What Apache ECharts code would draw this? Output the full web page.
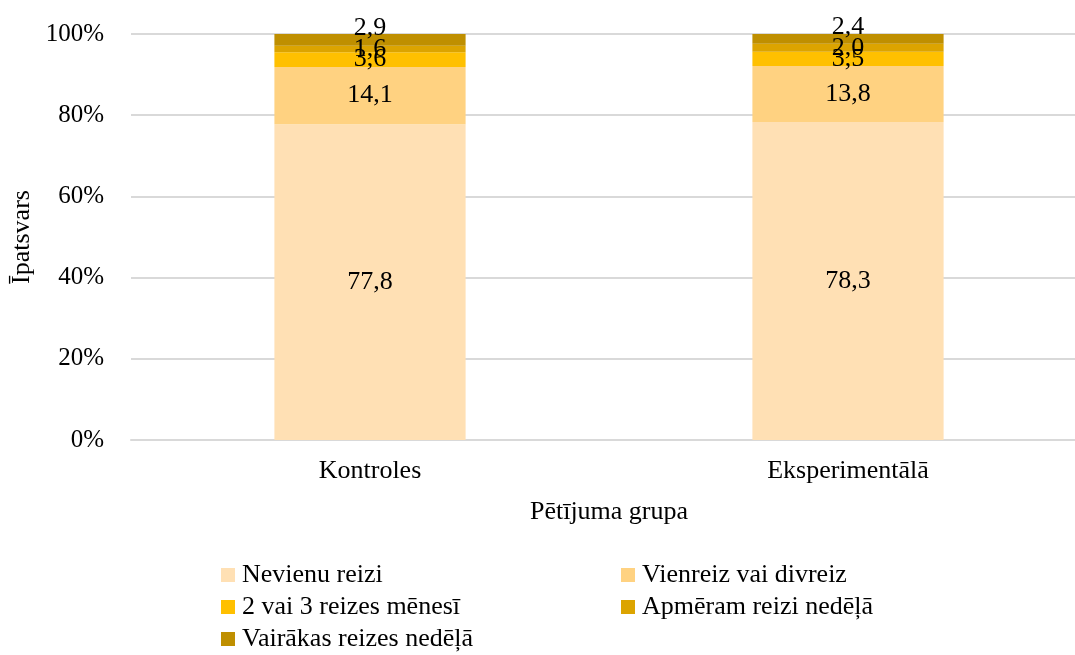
<!DOCTYPE html>
<html>
<head>
<meta charset="utf-8">
<script src="https://cdn.jsdelivr.net/npm/echarts@6/dist/echarts.min.js"></script>
<style>
  html, body { margin: 0; padding: 0; background: #fff; }
  #chart { width: 1075px; height: 655px; }
</style>
</head>
<body>
<div id="chart"></div>
<script>
// grupas
const groups = ['Kontroles', 'Eksperimentālā']
// atbilžu kategorijas (no apakšas uz augšu)
const answers = ['Nevienu reizi', 'Vienreiz vai divreiz', '2 vai 3 reizes mēnesī', 'Apmēram reizi nedēļā', 'Vairākas reizes nedēļā']
// procenti katrai kategorijai: [Kontroles, Eksperimentālā]
const nevienu = [77.8, 78.3]
const vienreiz = [14.1, 13.8]
const menesi = [3.6, 3.5]
const apmeram = [1.6, 2.0]
const vairakas = [2.9, 2.4]
const yTicks = [0, 20, 40, 60, 80, 100]

const colors = ['#FFE0B4', '#FFD281', '#FFC000', '#DCA400', '#BF8F00']
const seriesData = [nevienu, vienreiz, menesi, apmeram, vairakas]
const font = 'Liberation Serif'

// leģendas vietas: 2 kolonnas, 3 rindas
const legendPos = [[221, 562], [621, 562], [221, 594], [621, 594], [221, 626]]

const chart = echarts.init(document.getElementById('chart'))

chart.setOption({
  animation: false,
  textStyle: { fontFamily: font },
  grid: {
    left: 131,
    width: 956,
    top: 34,
    bottom: 215,
    outerBoundsMode: 'none'
  },
  legend: answers.map((name, i) => ({
    data: [name],
    left: legendPos[i][0],
    top: legendPos[i][1],
    padding: 0,
    icon: 'rect',
    itemWidth: 14,
    itemHeight: 14,
    textStyle: { fontFamily: font, fontSize: 26, color: '#000', padding: [0, 0, 0, 2] }
  })),
  xAxis: {
    type: 'category',
    data: groups,
    name: 'Pētījuma grupa',
    nameLocation: 'middle',
    nameGap: 59,
    nameTextStyle: { fontFamily: font, fontSize: 26, color: '#000' },
    axisTick: { show: false },
    axisLine: { lineStyle: { color: '#d9d9d9', width: 2 } },
    axisLabel: { fontFamily: font, fontSize: 26, color: '#000', margin: 18 }
  },
  yAxis: {
    type: 'value',
    min: yTicks[0],
    max: yTicks[yTicks.length - 1],
    interval: yTicks[1] - yTicks[0],
    name: 'Īpatsvars',
    nameLocation: 'middle',
    nameGap: 96,
    nameTextStyle: { fontFamily: font, fontSize: 26, color: '#000' },
    axisLine: { show: false },
    axisTick: { show: false },
    splitLine: { lineStyle: { color: '#d9d9d9', width: 2 } },
    axisLabel: { fontFamily: font, fontSize: 25, color: '#000', margin: 27, formatter: '{value}%' }
  },
  series: answers.map((name, i) => ({
    name: name,
    type: 'bar',
    stack: 'total',
    barWidth: '40%',
    data: seriesData[i],
    itemStyle: { color: colors[i] },
    label: {
      show: true,
      position: 'inside',
      fontFamily: font,
      fontSize: 26,
      color: '#000',
      formatter: p => p.value.toFixed(1).replace('.', ',')
    },
    // augšējā uzraksts pacelts virs stabiņa kā oriģinālā
    labelLayout: { hideOverlap: false, dy: i === answers.length - 1 ? -12 : 0 }
  }))
})
</script>
</body>
</html>
